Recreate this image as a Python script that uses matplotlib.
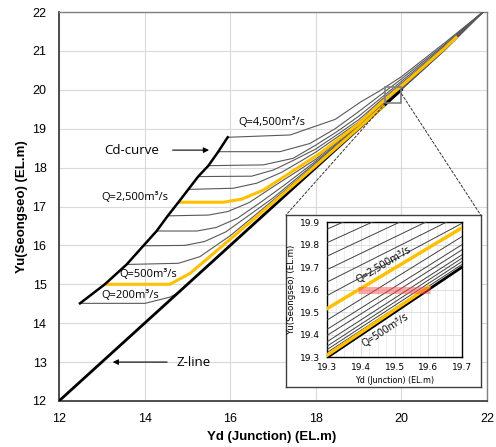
import numpy as np
import matplotlib
matplotlib.use("Agg")
import matplotlib.pyplot as plt
from matplotlib.patches import Rectangle, ConnectionPatch

# ---------------- data ----------------
# Discharge curves: Yd (junction stage) vs Yu (Seongseo stage), EL.m
yd_q200 = [12.49, 14.01, 14.59, 14.75, 16.0, 18.0, 20.0, 21.0, 21.9]
yu_q200 = [14.51, 14.51, 14.67, 14.76, 16.01, 18.01, 20.01, 21.01, 22.0]

yd_q500 = [13.07, 14.59, 15.06, 16.0, 17.0, 18.0, 19.0, 19.5, 20.0, 21.0, 21.9]
yu_q500 = [15.00, 15.00, 15.28, 16.16, 17.10, 18.05, 19.02, 19.51, 20.01, 21.01, 22.0]

yd_q900 = [13.58, 14.79, 15.29, 16.0, 17.0, 18.0, 19.0, 19.5, 20.0, 21.0, 21.9]
yu_q900 = [15.51, 15.54, 15.71, 16.25, 17.16, 18.09, 19.04, 19.53, 20.02, 21.02, 22.0]

yd_q1300 = [13.97, 14.94, 15.40, 15.90, 17.0, 18.0, 19.0, 19.5, 20.0, 21.0, 21.9]
yu_q1300 = [15.99, 16.00, 16.10, 16.35, 17.22, 18.13, 19.06, 19.56, 20.04, 21.03, 22.0]

yd_q1700 = [14.28, 15.22, 15.67, 16.17, 16.70, 17.3, 18.0, 19.0, 19.5, 20.0, 21.0, 21.9]
yu_q1700 = [16.37, 16.37, 16.46, 16.70, 17.10, 17.58, 18.17, 19.08, 19.58, 20.06, 21.04, 22.0]

yd_q2100 = [14.54, 15.49, 15.94, 16.44, 16.99, 17.5, 18.0, 19.0, 19.5, 20.0, 21.0, 21.9]
yu_q2100 = [16.76, 16.78, 16.87, 17.10, 17.50, 17.86, 18.22, 19.10, 19.61, 20.08, 21.05, 22.0]

yd_q2500 = [14.79, 15.84, 16.27, 16.77, 17.32, 18.10, 19.0, 19.5, 20.0, 21.0, 21.9]
yu_q2500 = [17.11, 17.11, 17.19, 17.42, 17.81, 18.37, 19.13, 19.64, 20.10, 21.06, 22.0]

yd_q2900 = [15.02, 16.07, 16.62, 17.2, 17.7, 18.0, 19.0, 19.5, 20.0, 21.0, 21.9]
yu_q2900 = [17.44, 17.47, 17.60, 17.88, 18.20, 18.40, 19.17, 19.67, 20.13, 21.08, 22.0]

yd_q3300 = [15.25, 16.50, 17.01, 17.5, 18.0, 18.5, 19.0, 19.5, 20.0, 21.0, 21.9]
yu_q3300 = [17.77, 17.78, 17.94, 18.20, 18.48, 18.85, 19.23, 19.71, 20.17, 21.10, 22.0]

yd_q3700 = [15.49, 16.77, 17.47, 18.0, 18.5, 19.0, 19.5, 20.0, 21.0, 21.9]
yu_q3700 = [18.05, 18.07, 18.24, 18.58, 18.93, 19.32, 19.77, 20.22, 21.13, 22.0]

yd_q4100 = [15.72, 17.16, 17.86, 18.45, 19.0, 19.5, 20.0, 21.0, 21.9]
yu_q4100 = [18.41, 18.41, 18.62, 19.00, 19.44, 19.86, 20.28, 21.16, 22.0]

yd_q4500 = [15.94, 17.40, 18.45, 19.05, 19.5, 20.0, 21.0, 21.9]
yu_q4500 = [18.78, 18.84, 19.24, 19.69, 19.98, 20.34, 21.20, 22.0]

# Z-line (Yu = Yd)
z_yd = [12.0, 20.0]
z_yu = [12.0, 20.0]

# highlighted curves end at these Yd values
q500_highlight_end = 19.6
q2500_highlight_end = 21.3

# zoom window shown in the inset box
zoom_box_yd = [19.62, 20.0]
zoom_box_yu = [19.65, 20.08]

# inset (detail) lines: Yu at Yd = 19.3 and Yd = 19.7
inset_yd = [19.3, 19.7]
inset_upper_left = [19.575, 19.635, 19.69, 19.75, 19.81, 19.87]
inset_upper_right = [19.895, 19.935, 19.978, 20.03, 20.082, 20.134]
inset_lower_left = [19.466, 19.425, 19.398, 19.370, 19.350, 19.335, 19.322]
inset_lower_right = [19.836, 19.800, 19.777, 19.755, 19.740, 19.725, 19.712]
inset_q2500_yu = [19.517, 19.875]
inset_q500_yd = [19.3, 19.6]
inset_q500_yu = [19.31, 19.612]
band_yd = [19.39, 19.605]
band_yu = [19.6, 19.6]

curves_yd = [yd_q200, yd_q500, yd_q900, yd_q1300, yd_q1700, yd_q2100,
             yd_q2500, yd_q2900, yd_q3300, yd_q3700, yd_q4100, yd_q4500]
curves_yu = [yu_q200, yu_q500, yu_q900, yu_q1300, yu_q1700, yu_q2100,
             yu_q2500, yu_q2900, yu_q3300, yu_q3700, yu_q4100, yu_q4500]

# Cd-curve passes through the start of every discharge curve
cd_yd = [c[0] for c in curves_yd]
cd_yu = [c[0] for c in curves_yu]

YELLOW = "#FFC000"
GREY = "#595959"
LABEL_FONT = ["Open Sans", "DejaVu Sans"]

# ---------------- figure ----------------
fig = plt.figure(figsize=(4.96, 4.47), dpi=100)
ax = fig.add_axes([0.119, 0.103, 0.863, 0.870])
ax.set_xlim(12, 22)
ax.set_ylim(12, 22)
ax.set_xticks(np.arange(12, 23, 2))
ax.set_yticks(np.arange(12, 23, 1))
ax.grid(color="#d9d9d9", lw=0.8)
ax.set_axisbelow(True)
ax.tick_params(length=0, pad=9, labelsize=9)
for lab in ax.get_xticklabels() + ax.get_yticklabels():
    lab.set_fontfamily("Liberation Sans")
for s in ("left", "bottom"):
    ax.spines[s].set_color("#404040")
    ax.spines[s].set_linewidth(1.3)
for s in ("top", "right"):
    ax.spines[s].set_color("#808080")
    ax.spines[s].set_linewidth(1.0)

for yd, yu in zip(curves_yd, curves_yu):
    ax.plot(yd, yu, color=GREY, lw=0.8, zorder=3)

ax.plot(z_yd, z_yu, color="black", lw=2.0, zorder=4)
ax.plot(cd_yd, cd_yu, color="black", lw=1.8, zorder=5)


def highlight(axis, yd, yu, end, lw):
    yd = np.asarray(yd)
    yu = np.asarray(yu)
    keep = yd < end
    xs = np.append(yd[keep], end)
    ys = np.append(yu[keep], np.interp(end, yd, yu))
    axis.plot(xs, ys, color=YELLOW, lw=lw, zorder=4.5, solid_capstyle="butt")


highlight(ax, yd_q500, yu_q500, q500_highlight_end, 2.2)
highlight(ax, yd_q2500, yu_q2500, q2500_highlight_end, 2.2)

ax.add_patch(Rectangle((zoom_box_yd[0], zoom_box_yu[0]),
                       zoom_box_yd[1] - zoom_box_yd[0],
                       zoom_box_yu[1] - zoom_box_yu[0],
                       fill=False, ec="#808080", lw=1.2, zorder=6))

# curve labels
ax.text(16.2, 19.15, "Q=4,500m³/s", fontsize=8, family=LABEL_FONT,
        va="center", ha="left", zorder=7)
ax.text(13.0, 17.22, "Q=2,500m³/s", fontsize=8, family=LABEL_FONT,
        va="center", ha="left", zorder=7)
ax.text(13.42, 15.25, "Q=500m³/s", fontsize=8, family=LABEL_FONT,
        va="center", ha="left", zorder=7)
ax.text(12.98, 14.70, "Q=200m³/s", fontsize=8, family=LABEL_FONT,
        va="center", ha="left", zorder=7)

ax.text(13.05, 18.45, "Cd-curve", fontsize=9.5, family=LABEL_FONT,
        va="center", ha="left", zorder=7)
ax.annotate("", xy=(15.57, 18.45), xytext=(14.59, 18.45),
            arrowprops=dict(arrowstyle="-|>", color="black", lw=0.8,
                            mutation_scale=8), zorder=7)
ax.text(14.75, 13.0, "Z-line", fontsize=9.5, family=LABEL_FONT,
        va="center", ha="left", zorder=7)
ax.annotate("", xy=(13.19, 13.0), xytext=(14.59, 13.0),
            arrowprops=dict(arrowstyle="-|>", color="black", lw=0.8,
                            mutation_scale=8), zorder=7)

ax.set_xlabel("Yd (Junction) (EL.m)", fontsize=9.5, fontweight="bold",
              family="Liberation Sans")
ax.xaxis.set_label_coords(0.497, -0.077)
ax.set_ylabel("Yu(Seongseo) (EL.m)", fontsize=9.5, fontweight="bold",
              family="Liberation Sans")
ax.yaxis.set_label_coords(-0.072, 0.5)

# ---------------- inset ----------------
frame_rect = [0.5766, 0.1342, 0.3925, 0.3848]
frame = fig.add_axes(frame_rect, zorder=10)
frame.set_xticks([])
frame.set_yticks([])
frame.set_facecolor("white")
for s in frame.spines.values():
    s.set_color("#404040")
    s.set_linewidth(1.0)

# connectors from the zoom window to the inset frame
for xy_a, xy_b in [((zoom_box_yd[0], zoom_box_yu[0]), (frame_rect[0], frame_rect[1] + frame_rect[3])),
                   ((zoom_box_yd[1], 19.9), (frame_rect[0] + frame_rect[2], frame_rect[1] + frame_rect[3]))]:
    con = ConnectionPatch(xyA=xy_a, coordsA=ax.transData,
                          xyB=xy_b, coordsB=fig.transFigure,
                          linestyle=(0, (2.5, 2)), lw=0.7, color="#333333")
    fig.add_artist(con)

iax = fig.add_axes([0.660, 0.2007, 0.271, 0.302], zorder=11)
iax.set_xlim(19.3, 19.7)
iax.set_ylim(19.3, 19.9)
iax.set_xticks(np.round(np.arange(19.3, 19.71, 0.1), 1))
iax.set_yticks(np.round(np.arange(19.3, 19.91, 0.1), 1))
iax.set_xticks(np.arange(19.3, 19.7, 0.025), minor=True)
iax.xaxis.set_major_formatter(matplotlib.ticker.FormatStrFormatter("%.1f"))
iax.yaxis.set_major_formatter(matplotlib.ticker.FormatStrFormatter("%.1f"))
iax.grid(which="major", color="#d9d9d9", lw=0.6)
iax.grid(which="minor", axis="x", color="#e6e6e6", lw=0.5)
iax.set_axisbelow(True)
iax.tick_params(which="both", length=0)
iax.tick_params(axis="x", pad=4, labelsize=6.5)
iax.tick_params(axis="y", pad=5, labelsize=6.5)
for s in iax.spines.values():
    s.set_color("black")
    s.set_linewidth(1.0)

for l, r in zip(inset_upper_left + inset_lower_left,
                inset_upper_right + inset_lower_right):
    iax.plot(inset_yd, [l, r], color="#404040", lw=0.7, zorder=3)

iax.plot(z_yd, z_yu, color="black", lw=2.0, zorder=4)
iax.plot(inset_yd, inset_q2500_yu, color=YELLOW, lw=2.5, zorder=5)
iax.plot(inset_q500_yd, inset_q500_yu, color=YELLOW, lw=2.5, zorder=5)
iax.plot(band_yd, band_yu, color="#ff5050", alpha=0.5, lw=5,
         solid_capstyle="butt", zorder=6)

iax.text(19.469, 19.71, "Q=2,500m³/s", fontsize=7.5, family=LABEL_FONT,
         rotation=31, ha="center", va="center", rotation_mode="anchor", zorder=7)
iax.text(19.472, 19.417, "Q=500m³/s", fontsize=7.5, family=LABEL_FONT,
         rotation=33, ha="center", va="center", rotation_mode="anchor", zorder=7)

iax.set_xlabel("Yd (Junction) (EL.m)", fontsize=5.8, labelpad=3)
iax.set_ylabel("Yu(Seongseo) (EL.m)", fontsize=6.2, labelpad=3)

fig.savefig("out.png", dpi=100)
